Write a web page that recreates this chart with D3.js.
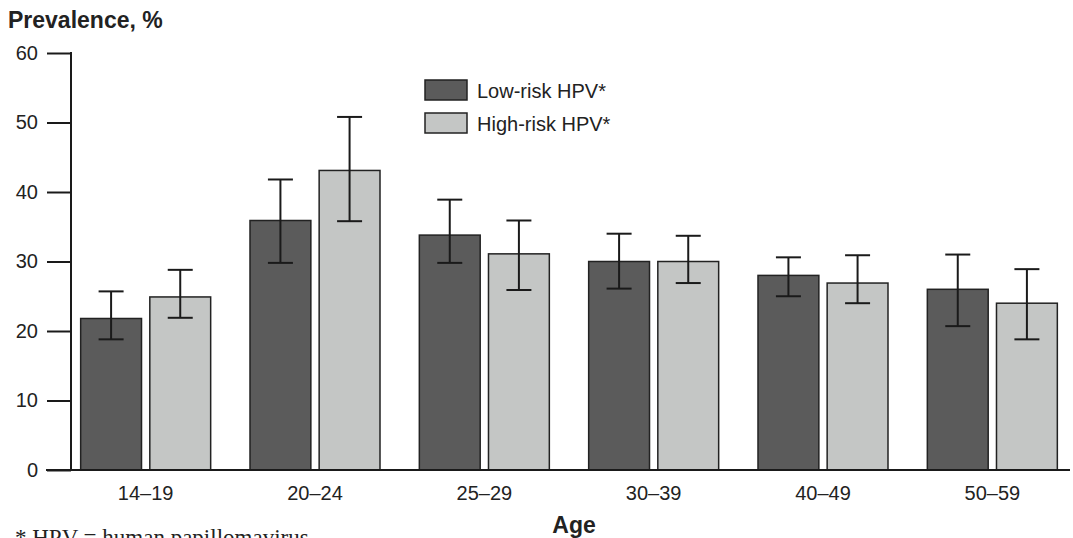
<!DOCTYPE html>
<html>
<head>
<meta charset="utf-8">
<script src="https://cdn.jsdelivr.net/npm/d3@7"></script>
<style>
  body { margin: 0; background: #fff; }
  svg text { font-family: "Liberation Sans", Arial, sans-serif; fill: #222; }
</style>
</head>
<body>
<div class="chart"></div>
<script>
// HPV prevalence by age group
let ageGroups = ["14\u201319", "20\u201324", "25\u201329", "30\u201339", "40\u201349", "50\u201359"];
let seriesNames = ["Low-risk HPV*", "High-risk HPV*"];
let lowRisk = [21.8, 35.9, 33.8, 30.0, 28.0, 26.0];
let lowRiskLo = [18.8, 29.8, 29.8, 26.1, 25.0, 20.7];
let lowRiskHi = [25.7, 41.8, 38.9, 34.0, 30.6, 31.0];
let highRisk = [24.9, 43.1, 31.1, 30.0, 26.9, 24.0];
let highRiskLo = [21.9, 35.8, 25.9, 26.9, 24.0, 18.8];
let highRiskHi = [28.8, 50.8, 35.9, 33.7, 30.9, 28.9];
let yTicks = [0, 10, 20, 30, 40, 50, 60];

let svgWidth = 1073;
let svgHeight = 538;
let margin = { top: 53, right: 3, bottom: 68, left: 71 };
let height = svgHeight - margin.top - margin.bottom;

let colors = ["#5b5b5b", "#c4c6c5"];

let svg = d3.select(".chart")
    .append("svg")
    .attr("width", svgWidth)
    .attr("height", svgHeight);

let chartGroup = svg.append("g")
    .attr("transform", `translate(${margin.left}, ${margin.top})`);

// scales
let yScale = d3.scaleLinear()
    .domain([0, 60])
    .range([height, 0]);

let x0 = d3.scaleBand()
    .domain(ageGroups)
    .range([61 - margin.left, 1077 - margin.left])
    .padding(0);

let innerWidth = 130;
let x1 = d3.scaleBand()
    .domain(seriesNames)
    .range([(x0.bandwidth() - innerWidth) / 2, (x0.bandwidth() + innerWidth) / 2])
    .paddingInner(0.12);

// build rows from arrays
let rows = ageGroups.map((g, i) => ({
    group: g,
    values: [
        { name: seriesNames[0], v: lowRisk[i], lo: lowRiskLo[i], hi: lowRiskHi[i], c: colors[0] },
        { name: seriesNames[1], v: highRisk[i], lo: highRiskLo[i], hi: highRiskHi[i], c: colors[1] }
    ]
}));

// bars
let groups = chartGroup.selectAll(".grp")
    .data(rows)
    .enter()
    .append("g")
    .attr("class", "grp")
    .attr("transform", d => `translate(${x0(d.group)}, 0)`);

groups.selectAll("rect")
    .data(d => d.values)
    .enter()
    .append("rect")
    .attr("x", d => x1(d.name))
    .attr("y", d => yScale(d.v))
    .attr("width", x1.bandwidth())
    .attr("height", d => height - yScale(d.v))
    .attr("fill", d => d.c)
    .attr("stroke", "#222")
    .attr("stroke-width", 1.5);

// error bars
let errs = groups.selectAll(".err")
    .data(d => d.values)
    .enter()
    .append("g")
    .attr("class", "err")
    .attr("stroke", "#1a1a1a")
    .attr("stroke-width", 2);

let capHalf = 12.5;
errs.append("line")
    .attr("x1", d => x1(d.name) + x1.bandwidth() / 2)
    .attr("x2", d => x1(d.name) + x1.bandwidth() / 2)
    .attr("y1", d => yScale(d.lo))
    .attr("y2", d => yScale(d.hi));
errs.append("line")
    .attr("x1", d => x1(d.name) + x1.bandwidth() / 2 - capHalf)
    .attr("x2", d => x1(d.name) + x1.bandwidth() / 2 + capHalf)
    .attr("y1", d => yScale(d.hi))
    .attr("y2", d => yScale(d.hi));
errs.append("line")
    .attr("x1", d => x1(d.name) + x1.bandwidth() / 2 - capHalf)
    .attr("x2", d => x1(d.name) + x1.bandwidth() / 2 + capHalf)
    .attr("y1", d => yScale(d.lo))
    .attr("y2", d => yScale(d.lo));

// y axis
let leftAxis = d3.axisLeft(yScale)
    .tickValues(yTicks)
    .tickSize(24)
    .tickPadding(9);

let yAxis = chartGroup.append("g")
    .call(leftAxis);
yAxis.select(".domain").remove();
yAxis.selectAll(".tick line").attr("stroke", "#1a1a1a").attr("stroke-width", 2);
yAxis.selectAll(".tick text")
    .attr("font-size", "20px")
    .attr("font-family", "Liberation Sans, Arial, sans-serif")
    .attr("fill", "#222");

chartGroup.append("line")
    .attr("x1", 0).attr("x2", 0)
    .attr("y1", yScale(60) - 1).attr("y2", height)
    .attr("stroke", "#1a1a1a").attr("stroke-width", 2);

// x axis
let bottomAxis = d3.axisBottom(x0).tickSize(0).tickPadding(16);
let xAxis = chartGroup.append("g")
    .attr("transform", `translate(0, ${height})`)
    .call(bottomAxis);
xAxis.select(".domain").remove();
xAxis.selectAll(".tick text")
    .attr("font-size", "20px")
    .attr("font-family", "Liberation Sans, Arial, sans-serif")
    .attr("fill", "#222");

chartGroup.append("line")
    .attr("x1", -25).attr("x2", 1070 - margin.left)
    .attr("y1", height).attr("y2", height)
    .attr("stroke", "#1a1a1a").attr("stroke-width", 2);

// axis titles
svg.append("text")
    .attr("x", 8)
    .attr("y", 27.5)
    .attr("font-size", "23px")
    .attr("font-weight", "bold")
    .text("Prevalence, %");

svg.append("text")
    .attr("x", 574)
    .attr("y", 533)
    .attr("text-anchor", "middle")
    .attr("font-size", "23px")
    .attr("font-weight", "bold")
    .text("Age");

// footnote (cut by the bottom edge in the original)
svg.append("text")
    .attr("x", 15)
    .attr("y", 545)
    .attr("font-size", "23px")
    .style("font-family", "Liberation Serif, Times New Roman, serif")
    .text("* HPV = human papillomavirus");

// legend
let legend = svg.append("g")
    .attr("transform", "translate(425, 80)");
let legendItems = legend.selectAll("g")
    .data(seriesNames)
    .enter()
    .append("g")
    .attr("transform", (d, i) => `translate(0, ${i * 33})`);
legendItems.append("rect")
    .attr("width", 42)
    .attr("height", 20)
    .attr("fill", (d, i) => colors[i])
    .attr("stroke", "#222")
    .attr("stroke-width", 1.5);
legendItems.append("text")
    .attr("x", 52)
    .attr("y", 17.5)
    .attr("font-size", "20px")
    .text(d => d);
</script>
</body>
</html>
